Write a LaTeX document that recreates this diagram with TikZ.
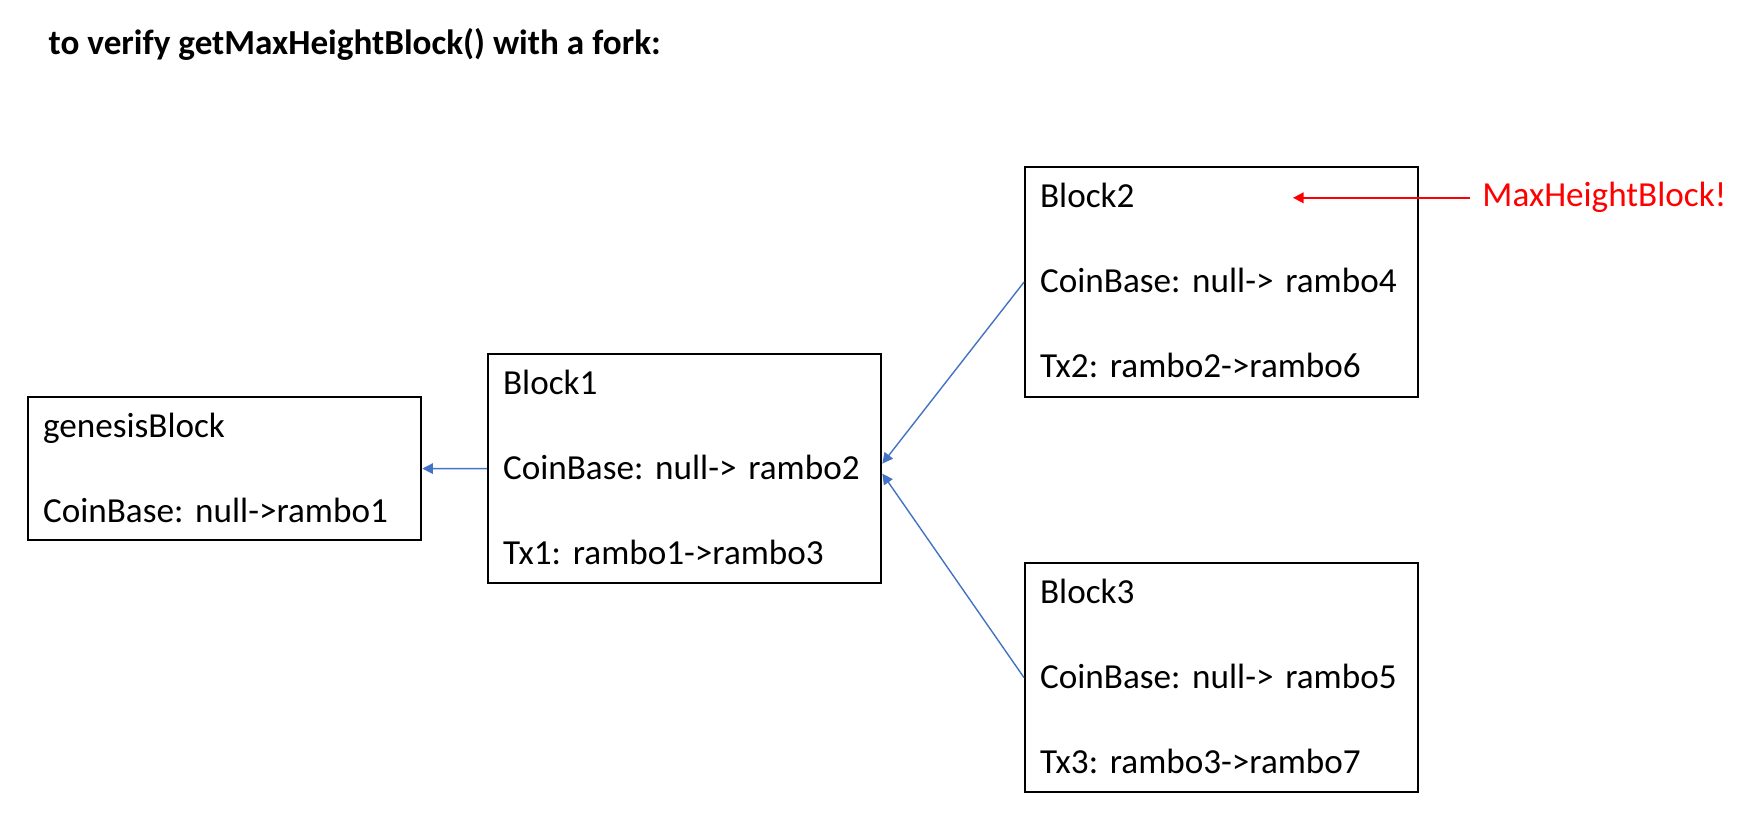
\documentclass[tikz,border=0pt]{standalone}
\usepackage{fontspec}
\setmainfont{Carlito}
\usetikzlibrary{arrows.meta}
\definecolor{linkblue}{HTML}{4472C4}
\frenchspacing
\begin{document}
\begin{tikzpicture}[x=0.01cm,y=-0.01cm]
        % Styles
        \tikzstyle{block}=[draw,line width=0.6pt,anchor=north west,align=left,text width=3.63cm,inner xsep=0.15cm,inner ysep=0pt,text height=0.4cm,font=\fontsize{10}{24.2}\selectfont]
        \tikzstyle{link}=[linkblue,line width=0.4pt,-{Triangle[length=3pt,width=3pt]}]
        \tikzstyle{pointer}=[red,line width=0.5pt,-{Triangle[length=3pt,width=3pt]}]
        %The graphic
        \useasboundingbox (0,0) rectangle (1758,834);
        %title
        \node[anchor=base west,inner sep=0pt,font=\fontsize{10}{12}\selectfont\bfseries] (title) at (48,55) {to verify getMaxHeightBlock() with a fork:};
        %blocks
        \node[block,text depth=1.03cm] (genesis) at (27,396) {genesisBlock\\CoinBase: null->rambo1};
        \node[block,text depth=1.89cm] (b1) at (487,353) {Block1\\CoinBase: null-> rambo2\\Tx1: rambo1->rambo3};
        \node[block,text depth=1.90cm] (b2) at (1024,166) {Block2\\CoinBase: null-> rambo4\\Tx2: rambo2->rambo6};
        \node[block,text depth=1.89cm] (b3) at (1024,562) {Block3\\CoinBase: null-> rambo5\\Tx3: rambo3->rambo7};
        %links
        \draw[link] (b1.west) -- (genesis.east);
        \draw[link] (b2.west) -- ([yshift=0.05cm]b1.east);
        \draw[link] (b3.west) -- ([yshift=-0.05cm]b1.east);
        %max height
        \node[red,anchor=base west,font=\fontsize{10}{12}\selectfont] (max) at (1470,207) {MaxHeightBlock!};
        \coordinate (maxtip) at (1293,200);
        \draw[pointer] (max.west) -- (max.west -| maxtip);
\end{tikzpicture}
\end{document}
